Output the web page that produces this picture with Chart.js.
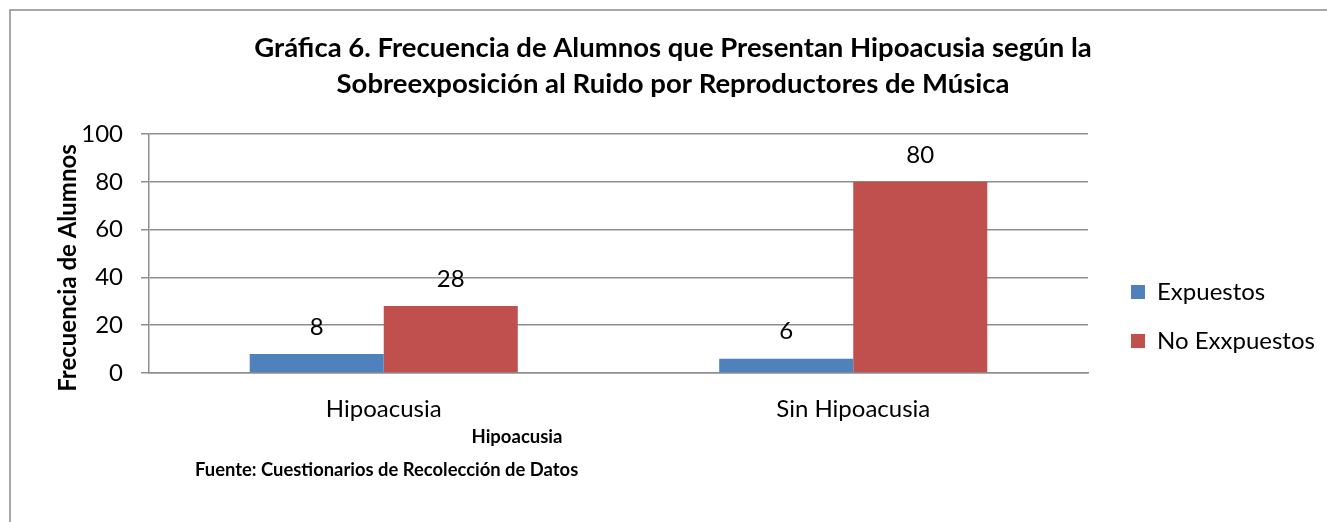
<!DOCTYPE html>
<html><head><meta charset="utf-8">
<script src="https://cdn.jsdelivr.net/npm/chart.js@4"></script>
<style>html,body{margin:0;padding:0;background:#fff}#wrap{position:relative;width:1327px;height:522px}</style>
</head><body><div id="wrap"><canvas id="c" width="1327" height="522"></canvas></div>
<script>
const categories = ['Hipoacusia', 'Sin Hipoacusia'];
const expuestos = [8, 6];
const noExpuestos = [28, 80];
const seriesNames = ['Expuestos', 'No Exxpuestos'];
const yMin = 0, yMax = 100, yStep = 20;
const titleLines = ['Gráfica 6. Frecuencia de Alumnos que Presentan Hipoacusia según la', 'Sobreexposición al Ruido por Reproductores de Música'];
const yTitle = 'Frecuencia de Alumnos';
const xTitle = 'Hipoacusia';
const footer = 'Fuente: Cuestionarios de Recolección de Datos';

const FAMILY = 'Lato, "Open Sans", sans-serif';
const LEG_FONT = 24, LEG_PAD = 25, BOX = 14;
const AREA_RIGHT = 1088, AREA_LEFT = 149, TITLE_CENTER = 673, BOX_X = 1131;

const mctx = document.createElement('canvas').getContext('2d');
mctx.font = LEG_FONT + 'px ' + FAMILY;
const tw = Math.max(...seriesNames.map(s => mctx.measureText(s).width));
const legendW = LEG_PAD + BOX + LEG_FONT / 2 + tw + 10;
const padR = 1327 - AREA_RIGHT - legendW;
const padL = 2 * TITLE_CENTER - 1327 + padR;
const padTop = 11;

const gridColor = '#8e8e8e';

const borderPlugin = {
  id: 'frame',
  beforeDraw(chart) {
    const c = chart.ctx;
    c.save();
    c.fillStyle = '#fff';
    c.fillRect(0, 0, chart.width, chart.height);
    c.strokeStyle = '#8a8a8a';
    c.lineWidth = 1.5;
    c.strokeRect(10, 10, 1400, 600);
    c.restore();
  }
};

const legendShift = {
  id: 'legendShift',
  afterLayout(chart) {
    const lg = chart.legend;
    if (lg) { lg.left = BOX_X - LEG_PAD; lg.right = lg.left + lg.width; }
  }
};

const valueLabels = {
  id: 'valueLabels',
  afterDatasetsDraw(chart) {
    const c = chart.ctx;
    c.save();
    c.font = '24px ' + FAMILY;
    c.fillStyle = '#000';
    c.textAlign = 'center';
    c.textBaseline = 'middle';
    chart.data.datasets.forEach((ds, i) => {
      chart.getDatasetMeta(i).data.forEach((bar, j) => {
        c.fillText(String(ds.data[j]), bar.x, bar.y - 27);
      });
    });
    c.restore();
  }
};

const extraText = {
  id: 'extraText',
  afterDraw(chart) {
    const c = chart.ctx;
    c.save();
    c.fillStyle = '#000';
    c.textBaseline = 'middle';
    c.font = 'bold 18.5px ' + FAMILY;
    c.textAlign = 'center';
    c.fillText(xTitle, 517, 437);
    c.font = 'bold 18.4px ' + FAMILY;
    c.textAlign = 'left';
    c.fillText(footer, 195, 470);
    c.translate(68.5, 268);
    c.rotate(-Math.PI / 2);
    c.font = 'bold 24px ' + FAMILY;
    c.textAlign = 'center';
    c.fillText(yTitle, 0, 0);
    c.restore();
  }
};

new Chart(document.getElementById('c'), {
  type: 'bar',
  data: {
    labels: categories,
    datasets: [
      { label: seriesNames[0], data: expuestos, backgroundColor: '#4f81bd', categoryPercentage: 0.571, barPercentage: 1.0 },
      { label: seriesNames[1], data: noExpuestos, backgroundColor: '#c0504d', categoryPercentage: 0.571, barPercentage: 1.0 }
    ]
  },
  options: {
    responsive: false,
    animation: false,
    devicePixelRatio: 1,
    layout: { padding: { left: padL, right: padR, top: padTop, bottom: 0 } },
    plugins: {
      title: {
        display: true,
        text: titleLines,
        color: '#000',
        font: { family: FAMILY, size: 27.5, weight: 'bold', lineHeight: 36 / 27.5 },
        padding: { top: 19, bottom: 32 }
      },
      legend: {
        position: 'right',
        title: { display: true, text: ' ', font: { size: 12 }, padding: { top: 85.6, bottom: 0 } },
        labels: {
          color: '#000',
          font: { family: FAMILY, size: LEG_FONT },
          boxWidth: BOX, boxHeight: BOX,
          padding: LEG_PAD
        }
      },
      tooltip: { enabled: false }
    },
    scales: {
      x: {
        grid: { display: false, drawTicks: false },
        border: { display: true, color: gridColor, width: 1.5 },
        ticks: { color: '#000', font: { family: FAMILY, size: 24 }, padding: 21.6 },
        afterFit(s) { s.height = 522 - 373; }
      },
      y: {
        min: yMin, max: yMax,
        ticks: { stepSize: yStep, color: '#000', font: { family: FAMILY, size: 24 }, padding: 18 },
        grid: { color: gridColor, lineWidth: 1.5, tickLength: 8 },
        border: { display: true, color: gridColor, width: 1.5 },
        title: { display: false },
        afterFit(s) { s.width = AREA_LEFT - padL; }
      }
    }
  },
  plugins: [borderPlugin, legendShift, valueLabels, extraText]
});
</script></body></html>
